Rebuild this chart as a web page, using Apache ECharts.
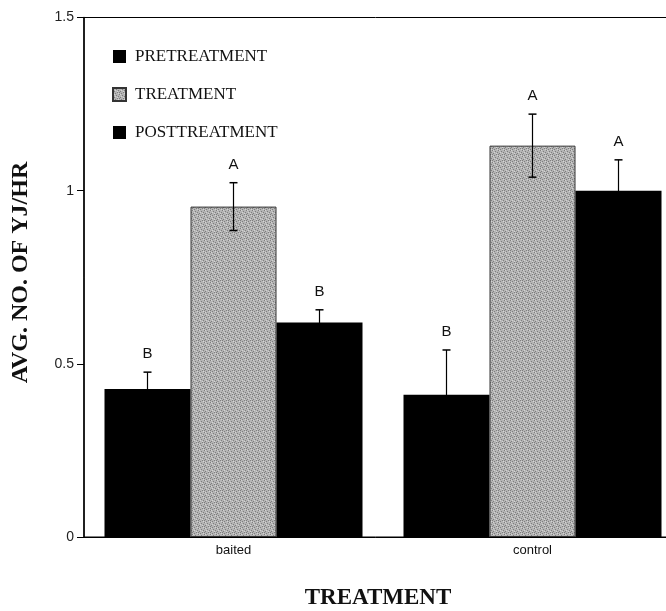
<!DOCTYPE html>
<html>
<head>
<meta charset="utf-8">
<script src="https://cdn.jsdelivr.net/npm/echarts@6/dist/echarts.min.js"></script>
<style>html,body{margin:0;padding:0;background:#fff;}#c{width:666px;height:611px;}</style>
</head>
<body>
<div id="c"></div>
<script>
var categories = ['baited', 'control'];
var seriesNames = ['PRETREATMENT', 'TREATMENT', 'POSTTREATMENT'];
var pretreatment = [0.427, 0.411];
var treatment = [0.954, 1.130];
var posttreatment = [0.619, 1.000];
var errPre = [0.049, 0.129];
var errTreat = [0.069, 0.091];
var errPost = [0.037, 0.089];
var lettersPre = ['B', 'B'];
var lettersTreat = ['A', 'A'];
var lettersPost = ['B', 'A'];

var BAR_W = 86;
var serif = '"Liberation Serif", "DejaVu Serif", serif';
var sans = '"Liberation Sans", Arial, sans-serif';

// deterministic stipple texture for the grey bars
function makePattern() {
  var c = document.createElement('canvas');
  c.width = 6; c.height = 6;
  var ctx = c.getContext('2d');
  ctx.fillStyle = '#b4b4b4';
  ctx.fillRect(0, 0, 6, 6);
  var dark = [[0,0],[3,1],[1,3],[4,4],[2,5],[5,2],[0,4]];
  ctx.fillStyle = '#7e7e7e';
  dark.forEach(function (p) { ctx.fillRect(p[0], p[1], 1, 1); });
  var light = [[2,2],[5,5],[1,0],[4,3]];
  ctx.fillStyle = '#d4d4d4';
  light.forEach(function (p) { ctx.fillRect(p[0], p[1], 1, 1); });
  return c;
}
var greyFill = { image: makePattern(), repeat: 'repeat' };

var errData = [];
var groups = [[pretreatment, errPre, lettersPre], [treatment, errTreat, lettersTreat], [posttreatment, errPost, lettersPost]];
groups.forEach(function (g, si) {
  g[0].forEach(function (v, ci) {
    errData.push([ci, v, g[1][ci], si, g[2][ci]]);
  });
});

var chart = echarts.init(document.getElementById('c'));
chart.setOption({
  animation: false,
  grid: { left: 84, top: 17.5, width: 598, height: 519.5, show: true, borderColor: '#000', borderWidth: 1, backgroundColor: 'transparent', outerBoundsMode: 'none', containLabel: false },
  legend: {
    orient: 'vertical', left: 107, top: 43, itemWidth: 13, itemHeight: 13, itemGap: 21,
    icon: 'rect',
    textStyle: { fontFamily: serif, fontSize: 17, color: '#111', padding: [0, 0, 0, 4] },
    data: seriesNames
  },
  xAxis: {
    type: 'category', data: categories,
    axisLine: { lineStyle: { color: '#000', width: 1 } },
    axisTick: { alignWithLabel: true, length: 5, lineStyle: { color: '#000' } },
    axisLabel: { fontFamily: sans, fontSize: 13, color: '#111', margin: 7 }
  },
  yAxis: {
    type: 'value', min: 0, max: 1.5, interval: 0.5,
    axisLine: { show: true, lineStyle: { color: '#000', width: 1.5 } },
    axisTick: { show: true, length: 7, lineStyle: { color: '#000' } },
    axisLabel: { fontFamily: sans, fontSize: 14, color: '#222', margin: 10 },
    splitLine: { show: false }
  },
  series: [
    { name: seriesNames[0], type: 'bar', data: pretreatment, barWidth: BAR_W, barGap: '0%', itemStyle: { color: '#000' } },
    { name: seriesNames[1], type: 'bar', data: treatment, barWidth: BAR_W, barGap: '0%', itemStyle: { color: greyFill, borderColor: '#333', borderWidth: 1 } },
    { name: seriesNames[2], type: 'bar', data: posttreatment, barWidth: BAR_W, barGap: '0%', itemStyle: { color: '#000' } },
    {
      type: 'custom', data: errData, z: 10,
      renderItem: function (params, api) {
        var ci = api.value(0), v = api.value(1), e = api.value(2), si = api.value(3);
        var letter = errData[params.dataIndex][4];
        var off = (si - 1) * BAR_W;
        var top = api.coord([ci, v + e]);
        var bot = api.coord([ci, v - e]);
        var x = top[0] + off;
        var cw = 4;
        return {
          type: 'group',
          children: [
            { type: 'line', shape: { x1: x, y1: top[1], x2: x, y2: bot[1] }, style: { stroke: '#000', lineWidth: 1.2 } },
            { type: 'line', shape: { x1: x - cw, y1: top[1], x2: x + cw, y2: top[1] }, style: { stroke: '#000', lineWidth: 1.5 } },
            { type: 'line', shape: { x1: x - cw, y1: bot[1], x2: x + cw, y2: bot[1] }, style: { stroke: '#000', lineWidth: 1.5 } },
            { type: 'text', x: x, y: top[1] - 18, style: { text: letter, fontFamily: sans, fontSize: 15, fill: '#111', align: 'center', verticalAlign: 'middle' } }
          ]
        };
      }
    }
  ],
  graphic: [
    { type: 'text', x: 21, y: 272.5, rotation: Math.PI / 2, style: { text: 'AVG. NO. OF YJ/HR', fontFamily: serif, fontWeight: 'bold', fontSize: 24, fill: '#111', align: 'center', verticalAlign: 'middle' } },
    { type: 'text', x: 378, y: 598, style: { text: 'TREATMENT', fontFamily: serif, fontWeight: 'bold', fontSize: 23, fill: '#111', align: 'center', verticalAlign: 'middle' } }
  ]
});
</script>
</body>
</html>
